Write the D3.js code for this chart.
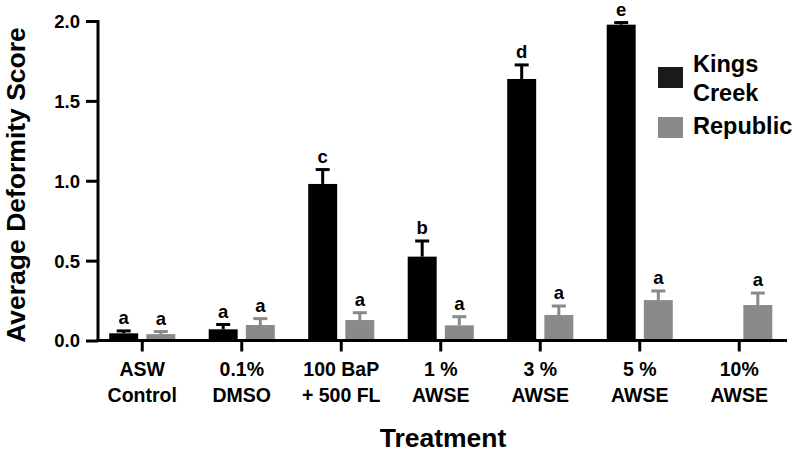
<!DOCTYPE html>
<html><head><meta charset="utf-8">
<script src="https://cdn.jsdelivr.net/npm/d3@7"></script>
<style>body{margin:0;background:#fff}svg{display:block}text{font-family:Arial,"Liberation Sans",sans-serif;font-weight:bold}</style>
</head><body><svg id="c" width="800" height="453"></svg>
<script>
const categories = [["ASW","Control"],["0.1%","DMSO"],["100 BaP","+ 500 FL"],["1 %","AWSE"],["3 %","AWSE"],["5 %","AWSE"],["10%","AWSE"]];
const series = ["Kings Creek","Republic"];
const kingsMean = [0.045, 0.07, 0.98, 0.525, 1.637, 1.977, null];
const kingsErr  = [0.015, 0.03, 0.09, 0.098, 0.088, 0.013, null];
const repMean   = [0.04, 0.097, 0.128, 0.095, 0.16, 0.253, 0.222];
const repErr    = [0.016, 0.04, 0.046, 0.054, 0.056, 0.057, 0.075];
const kingsLetters = ["a","a","c","b","d","e",null];
const repLetters   = ["a","a","a","a","a","a","a"];
const yTicks = [0, 0.5, 1.0, 1.5, 2.0];
const colors = ["#000000","#8a8a8a"];

const svg = d3.select("#c");
const x = d3.scaleBand().domain(d3.range(categories.length)).range([92.5, 789]).padding(0);
const x1 = d3.scaleBand().domain([0,1]).range([0, x.bandwidth()]).paddingInner(0.22).paddingOuter(0.45);
const y = d3.scaleLinear().domain([0,2]).range([340.5, 21]);

const data = [
  {m:kingsMean, e:kingsErr, l:kingsLetters},
  {m:repMean, e:repErr, l:repLetters}
];
data.forEach((s,si)=>{
  const g = svg.append("g");
  categories.forEach((c,i)=>{
    const v = s.m[i]; if(v==null) return;
    const bx = x(i)+x1(si), bw = x1.bandwidth(), cx = bx+bw/2;
    g.append("rect").attr("x",bx).attr("y",y(v)).attr("width",bw).attr("height",y(0)-y(v)).attr("fill",colors[si]);
    const top = y(v+s.e[i]);
    g.append("line").attr("x1",cx).attr("x2",cx).attr("y1",y(v)).attr("y2",top).attr("stroke",colors[si]).attr("stroke-width",3);
    g.append("line").attr("x1",cx-7).attr("x2",cx+7).attr("y1",top).attr("y2",top).attr("stroke",colors[si]).attr("stroke-width",3);
    if(s.l[i]) g.append("text").attr("x",cx).attr("y",top-7).attr("text-anchor","middle").attr("font-size",18.5).attr("fill","#000").text(s.l[i]);
  });
});

// y axis
const ya = svg.append("g").attr("transform","translate(98,0)")
  .call(d3.axisLeft(y).tickValues(yTicks).tickFormat(d3.format(".1f")).tickSize(12).tickSizeOuter(0));
ya.select(".domain").attr("stroke-width",3).attr("d","M0,"+(y(0)+1.5)+"V"+(y(2)-1));
ya.selectAll(".tick line").attr("stroke-width",3);
ya.selectAll(".tick text").attr("font-size",18.5).attr("font-family","Arial, 'Liberation Sans', sans-serif").attr("font-weight","bold").attr("x",-18).attr("dy","0.35em");

// x axis
const xa = svg.append("g").attr("transform","translate(0,"+y(0)+")")
  .call(d3.axisBottom(x).tickSize(11).tickSizeOuter(0).tickFormat(""));
xa.select(".domain").attr("stroke-width",3).attr("d","M96.5,0H787");
xa.selectAll(".tick line").attr("stroke-width",3);
xa.selectAll(".tick").each(function(d){
  const t = d3.select(this).append("text").attr("fill","#000").attr("font-size",19.5).attr("text-anchor","middle");
  t.append("tspan").attr("x",0).attr("y",35.5).text(categories[d][0]);
  t.append("tspan").attr("x",0).attr("y",61.5).text(categories[d][1]);
});

// titles
svg.append("text").attr("transform","translate(25,185) rotate(-90)").attr("text-anchor","middle").attr("font-size",26.5).text("Average Deformity Score");
svg.append("text").attr("x",443).attr("y",447).attr("text-anchor","middle").attr("font-size",26.5).text("Treatment");

// legend
const lg = svg.append("g");
lg.append("rect").attr("x",658).attr("y",67).attr("width",25).attr("height",21).attr("fill","#1a1a1a");
lg.append("rect").attr("x",658).attr("y",117).attr("width",25).attr("height",21).attr("fill",colors[1]);
lg.append("text").attr("x",693).attr("y",72).attr("font-size",23.5).text("Kings");
lg.append("text").attr("x",693).attr("y",101).attr("font-size",23.5).text("Creek");
lg.append("text").attr("x",693).attr("y",134).attr("font-size",23.5).text("Republic");
</script></body></html>
